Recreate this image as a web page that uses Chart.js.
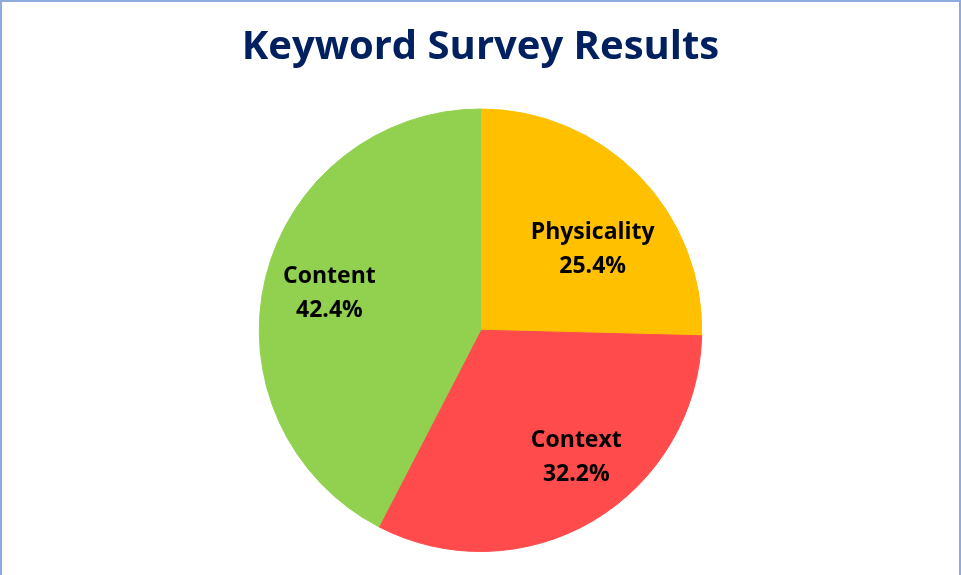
<!DOCTYPE html>
<html>
<head>
<meta charset="utf-8">
<script src="https://cdn.jsdelivr.net/npm/chart.js@4"></script>
<style>
  html, body { margin: 0; padding: 0; background: #fff; }
  #wrap { position: relative; width: 961px; height: 575px; }
  #frame {
    position: absolute; left: 0; top: 0; width: 957px; height: 575px;
    border-top: 2px solid #8FAADC; border-left: 2px solid #8FAADC; border-right: 2px solid #8FAADC;
    pointer-events: none;
  }
</style>
</head>
<body>
<div id="wrap">
  <canvas id="pie" width="961" height="575"></canvas>
  <div id="frame"></div>
</div>
<script>
// データ
const categories = ['Physicality', 'Context', 'Content'];
const shares = [25.4, 32.2, 42.4];
const sliceColors = ['#FFC000', '#FF4B4B', '#92D050'];
// ラベル位置 (半径に対する比率)
const labelPos = [[0.507, -0.364], [0.433, 0.574], [-0.683, -0.166]];

const labelPlugin = {
  id: 'sliceLabels',
  afterDatasetsDraw(chart) {
    const ctx = chart.ctx;
    const arcs = chart.getDatasetMeta(0).data;
    ctx.save();
    ctx.fillStyle = '#000';
    ctx.font = 'bold 23px "Open Sans"';
    ctx.textAlign = 'center';
    ctx.textBaseline = 'middle';
    arcs.forEach((arc, i) => {
      const r = arc.outerRadius;
      const x = arc.x + labelPos[i][0] * r;
      const y = arc.y + labelPos[i][1] * r;
      ctx.fillText(categories[i], x, y - 17);
      ctx.fillText(shares[i].toFixed(1) + '%', x, y + 17);
    });
    ctx.restore();
  }
};

new Chart(document.getElementById('pie'), {
  type: 'pie',
  data: {
    labels: categories,
    datasets: [{
      data: shares,
      backgroundColor: sliceColors,
      borderColor: sliceColors,
      borderWidth: 1
    }]
  },
  options: {
    responsive: false,
    animation: false,
    layout: { padding: { top: 0, bottom: 23, left: 0, right: 0 } },
    plugins: {
      legend: { display: false },
      tooltip: { enabled: false },
      title: {
        display: true,
        text: 'Keyword Survey Results',
        color: '#002060',
        font: { family: 'Open Sans', size: 40, weight: 'bold', lineHeight: 1.2 },
        padding: { top: 24, bottom: 36.5 }
      }
    }
  },
  plugins: [labelPlugin]
});
</script>
</body>
</html>
